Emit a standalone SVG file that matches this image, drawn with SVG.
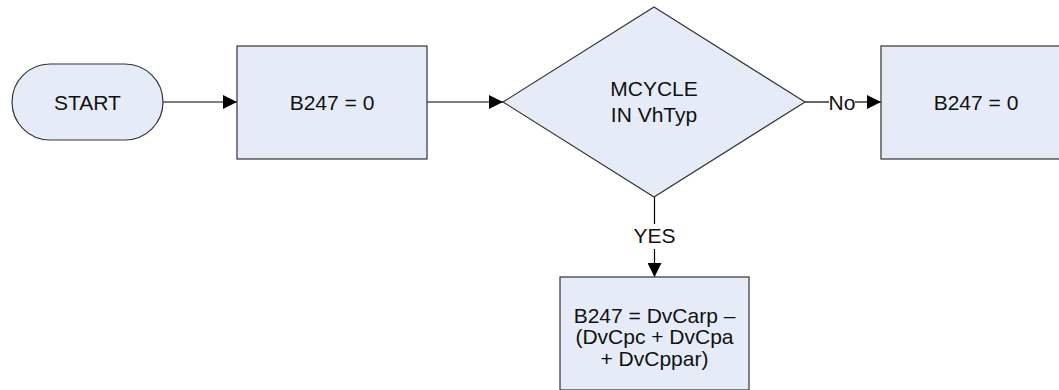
<svg xmlns="http://www.w3.org/2000/svg" width="1059" height="390" viewBox="0 0 1059 390">
<defs>
<marker id="arr" viewBox="0 0 14 14" refX="14" refY="7" markerWidth="14" markerHeight="14" markerUnits="userSpaceOnUse" orient="auto">
<path d="M0,0 L14,7 L0,14 Z" fill="#000"/>
</marker>
<style>
.shape{fill:#e6ecf7;stroke:#333;stroke-width:1.2}
.t{font-family:"Liberation Sans",Arial,sans-serif;font-size:21px;fill:#111;text-anchor:middle}
.c{stroke:#000;stroke-width:1.2;fill:none}
</style>
</defs>
<rect width="1059" height="390" fill="#fff"/>
<g id="connectors">
<line class="c" x1="163" y1="102" x2="237" y2="102" marker-end="url(#arr)"/>
<line class="c" x1="427" y1="102" x2="503" y2="102" marker-end="url(#arr)"/>
<line class="c" x1="805" y1="102" x2="829" y2="102"/>
<line class="c" x1="855" y1="102" x2="881" y2="102" marker-end="url(#arr)"/>
<text class="t" x="842" y="109.5">No</text>
<line class="c" x1="654.5" y1="197" x2="654.5" y2="224"/>
<line class="c" x1="654.5" y1="249" x2="654.5" y2="277" marker-end="url(#arr)"/>
<text class="t" x="654.5" y="243">YES</text>
</g>
<g id="start">
<rect class="shape" x="12" y="64" width="151" height="76" rx="38" ry="38"/>
<text class="t" x="87.5" y="109.5">START</text>
</g>
<g id="init">
<rect class="shape" x="237" y="46" width="190" height="113"/>
<text class="t" x="332" y="109.5">B247 = 0</text>
</g>
<g id="decision">
<polygon class="shape" points="654,7 805,102 654,197 503,102"/>
<text class="t" x="654" y="96">MCYCLE</text>
<text class="t" x="654" y="122">IN VhTyp</text>
</g>
<g id="no-box">
<rect class="shape" x="881" y="46" width="190" height="113"/>
<text class="t" x="976" y="109.5">B247 = 0</text>
</g>
<g id="yes-box">
<rect class="shape" x="560" y="277" width="189" height="113"/>
<text class="t" x="654.5" y="322.5">B247 = DvCarp –</text>
<text class="t" x="654.5" y="344">(DvCpc + DvCpa</text>
<text class="t" x="654.5" y="365.5">+ DvCppar)</text>
</g>
</svg>
